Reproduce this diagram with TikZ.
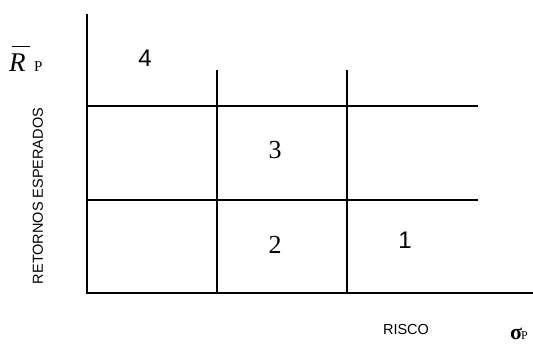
\documentclass[tikz,border=0pt]{standalone}
\usepackage{fontspec}
\setmainfont{Liberation Serif}
\newfontfamily\arialf{Liberation Sans}
\newfontfamily\timesf{Liberation Serif}
\begin{document}
\begin{tikzpicture}[x=1pt,y=-1pt,
  axis/.style={line width=1.5pt,black},
  grid/.style={line width=1.5pt,black},
  numsans/.style={font=\arialf\fontsize{24}{24}\selectfont,inner sep=0pt},
  numserif/.style={font=\timesf\fontsize{26}{26}\selectfont,inner sep=0pt},
  lab/.style={font=\arialf\fontsize{14.5}{14.5}\selectfont,inner sep=0pt}]
\useasboundingbox (0,0) rectangle (533,345);
% coordinates
\coordinate (ytop) at (87,14);
\coordinate (origin) at (87,293);
\coordinate (xend) at (533,293);
\coordinate (v1t) at (217,70);
\coordinate (v1b) at (217,293);
\coordinate (v2t) at (347,70);
\coordinate (v2b) at (347,293);
\coordinate (h1l) at (87,106);
\coordinate (h1r) at (478,106);
\coordinate (h2l) at (87,200);
\coordinate (h2r) at (478,200);
% axes and grid
\draw[axis] (ytop) -- (origin) -- (xend);
\draw[grid] (v1t) -- (v1b);
\draw[grid] (v2t) -- (v2b);
\draw[grid] (h1l) -- (h1r);
\draw[grid] (h2l) -- (h2r);
% numbers
\node[numsans] (n4) at (145,58) {4};
\node[numserif] (n3) at (275,150) {3};
\node[numserif] (n2) at (275,245) {2};
\node[numsans] (n1) at (405,240) {1};
% labels
\node[inner sep=0pt,anchor=base west] (rp) at (9,72) {\timesf\fontsize{27}{27}\selectfont\vbox{\offinterlineskip\hbox{\kern3pt\vrule height 1.8pt depth 0pt width 18pt}\kern7pt\hbox{\itshape R}}\kern4pt{\fontsize{15}{15}\selectfont P}};
\node[lab,rotate=90] (ret) at (38,196) {RETORNOS ESPERADOS};
\node[lab] (risco) at (406,330) {RISCO};
\node[inner sep=0pt,anchor=base west] (sig) at (510,339) {\timesf\bfseries\fontsize{22}{22}\selectfont σ\kern-1pt{\mdseries\fontsize{12}{12}\selectfont P}};
\end{tikzpicture}
\end{document}
